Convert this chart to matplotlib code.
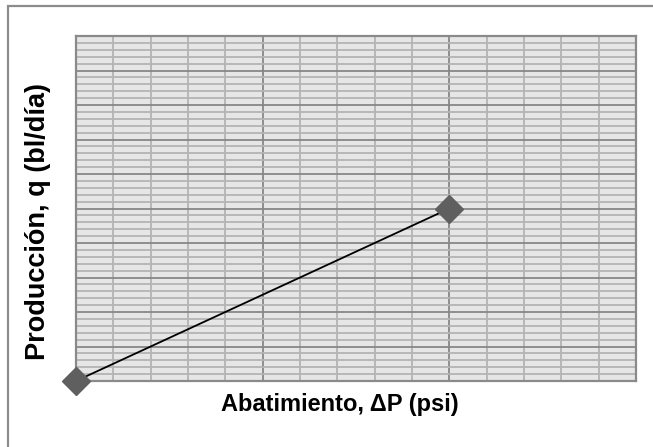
import numpy as np
import matplotlib.pyplot as plt
from matplotlib.patches import Rectangle
from matplotlib.ticker import MultipleLocator

# Datos
abatimiento = [0, 2]
produccion = [0, 5]

W, H = 653, 447
fig = plt.figure(figsize=(W / 100, H / 100), dpi=100)

# borde del area del grafico (estilo Excel)
fig.patches.append(Rectangle((8 / W, -0.1), 1.2, (H - 6) / H + 0.1, transform=fig.transFigure,
                             fill=False, edgecolor='#8c8c8c', linewidth=1.6))

ax = fig.add_axes([76 / W, (H - 381) / H, 560 / W, 345 / H])
ax.set_facecolor('#e6e6e6')
ax.set_xlim(0, 3)
ax.set_ylim(0, 10)
ax.xaxis.set_major_locator(MultipleLocator(1))
ax.xaxis.set_minor_locator(MultipleLocator(0.2))
ax.yaxis.set_major_locator(MultipleLocator(1))
ax.yaxis.set_minor_locator(MultipleLocator(0.2))
ax.grid(which='minor', color='#b4b4b4', linewidth=1.3)
ax.grid(which='major', color='#878787', linewidth=1.3)
ax.set_axisbelow(True)
ax.tick_params(which='both', length=0, labelbottom=False, labelleft=False)
for lado in ax.spines:
    ax.spines[lado].set_color('#8a8a8a')
    ax.spines[lado].set_linewidth(1.6)

ax.plot(abatimiento, produccion, color='black', linewidth=1.3, zorder=3)
ax.plot(abatimiento, produccion, linestyle='none', marker='D', markersize=14,
        color='#5f5f5f', clip_on=False, zorder=4)

fuente = ['Liberation Sans', 'DejaVu Sans']
fig.text(340 / W, 1 - 405 / H, 'Abatimiento, ΔP (psi)', ha='center', va='center',
         fontsize=17, fontweight='bold', family=fuente)
fig.text(38 / W, 1 - 222 / H, 'Producción, q (bl/día)', ha='center', va='center',
         rotation=90, fontsize=19.5, fontweight='bold', family=fuente)

fig.savefig('out.png', dpi=100)
